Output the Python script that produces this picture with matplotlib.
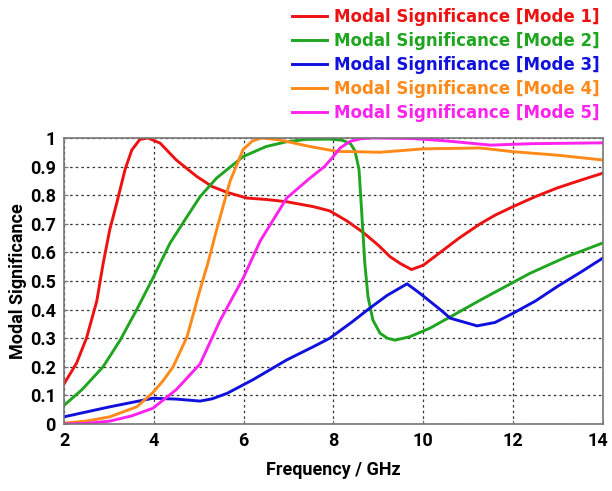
import matplotlib
matplotlib.use("Agg")
import matplotlib.pyplot as plt
from matplotlib.transforms import ScaledTranslation

# Mode 1 (red)
f1 = [2.0, 2.28, 2.5, 2.73, 2.87, 3.02, 3.17, 3.36, 3.51, 3.69, 3.87, 4.14, 4.5, 4.96, 5.3, 5.63, 6.07, 6.5, 6.96, 7.55, 7.92, 8.3, 8.66, 9.0, 9.26, 9.5, 9.74, 10.0, 10.38, 10.8, 11.27, 11.6, 12.0, 12.5, 12.98, 13.5, 14.0]
m1 = [0.14, 0.213, 0.30, 0.43, 0.56, 0.68, 0.77, 0.89, 0.958, 0.995, 1.0, 0.982, 0.923, 0.865, 0.83, 0.81, 0.79, 0.785, 0.777, 0.76, 0.745, 0.71, 0.67, 0.625, 0.585, 0.56, 0.54, 0.555, 0.60, 0.65, 0.70, 0.73, 0.76, 0.795, 0.825, 0.852, 0.877]

# Mode 2 (green)
f2 = [2.0, 2.4, 2.87, 3.25, 3.62, 3.98, 4.36, 4.74, 5.03, 5.4, 5.99, 6.5, 6.96, 7.4, 7.92, 8.2, 8.38, 8.48, 8.57, 8.63, 8.7, 8.77, 8.88, 9.04, 9.2, 9.37, 9.7, 10.15, 10.7, 11.27, 12.38, 13.2, 14.0]
m2 = [0.065, 0.12, 0.2, 0.293, 0.40, 0.51, 0.632, 0.725, 0.795, 0.86, 0.935, 0.97, 0.987, 0.995, 0.996, 0.992, 0.98, 0.955, 0.89, 0.74, 0.56, 0.445, 0.363, 0.317, 0.30, 0.293, 0.305, 0.335, 0.383, 0.433, 0.527, 0.585, 0.633]

# Mode 3 (blue)
f3 = [2.0, 3.02, 3.98, 4.5, 5.03, 5.3, 5.63, 6.2, 6.96, 7.55, 7.92, 8.4, 8.81, 9.2, 9.64, 9.9, 10.38, 10.6, 11.2, 11.6, 12.0, 12.5, 12.98, 13.5, 14.0]
m3 = [0.025, 0.06, 0.09, 0.087, 0.08, 0.088, 0.107, 0.154, 0.224, 0.27, 0.30, 0.355, 0.405, 0.45, 0.49, 0.46, 0.40, 0.37, 0.343, 0.355, 0.387, 0.43, 0.48, 0.53, 0.58]

# Mode 4 (orange)
f4 = [2.0, 2.5, 3.02, 3.62, 3.98, 4.2, 4.43, 4.74, 5.03, 5.2, 5.4, 5.7, 5.99, 6.2, 6.4, 6.81, 7.48, 8.08, 8.5, 9.04, 10.0, 11.27, 12.0, 12.98, 14.0]
m4 = [0.003, 0.01, 0.025, 0.06, 0.11, 0.15, 0.20, 0.305, 0.47, 0.56, 0.68, 0.85, 0.96, 0.99, 1.0, 0.993, 0.97, 0.953, 0.952, 0.95, 0.962, 0.965, 0.952, 0.94, 0.923]

# Mode 5 (magenta)
f5 = [2.0, 2.5, 3.02, 3.5, 3.98, 4.5, 5.03, 5.47, 5.99, 6.37, 6.96, 7.48, 7.8, 7.97, 8.15, 8.37, 8.6, 8.88, 9.77, 10.5, 11.5, 12.4, 14.0]
m5 = [0.0, 0.002, 0.01, 0.028, 0.055, 0.12, 0.21, 0.36, 0.51, 0.64, 0.79, 0.86, 0.9, 0.93, 0.965, 0.988, 0.997, 1.0, 0.998, 0.99, 0.975, 0.98, 0.983]

labels = ["Modal Significance [Mode 1]", "Modal Significance [Mode 2]",
          "Modal Significance [Mode 3]", "Modal Significance [Mode 4]",
          "Modal Significance [Mode 5]"]
colors = ["#ee1111", "#1fa51f", "#1111dd", "#ff8a1a", "#ff22ee"]

xticks = [2, 4, 6, 8, 10, 12, 14]
yticks = [0, 0.1, 0.2, 0.3, 0.4, 0.5, 0.6, 0.7, 0.8, 0.9, 1]
yticklabels = ["0", "0.1", "0.2", "0.3", "0.4", "0.5", "0.6", "0.7", "0.8", "0.9", "1"]

tickfont = {"family": ["Roboto", "DejaVu Sans"], "weight": "bold", "size": 13}

fig = plt.figure(figsize=(6.12, 4.91), dpi=100)
ax = fig.add_axes([0.1046, 0.1365, 0.8804, 0.5825])

series = [(f1, m1), (f2, m2), (f3, m3), (f4, m4), (f5, m5)]
lines = []
for (f, m), c, lab in zip(series, colors, labels):
    ln, = ax.plot(f, m, color=c, lw=2.1, label=lab, solid_joinstyle="round")
    lines.append(ln)

ax.set_xlim(2, 14)
ax.set_ylim(0, 1)
ax.set_xticks(xticks)
ax.set_xticklabels([str(t) for t in xticks], fontdict=tickfont)
ax.set_yticks(yticks)
ax.set_yticklabels(yticklabels, fontdict=tickfont)
ax.grid(True, color="#333333", linestyle=(0, (2, 2.5)), linewidth=0.9)
ax.tick_params(direction="in", length=3, color="#777777", pad=6)
for s in ax.spines.values():
    s.set_color("#777777")
    s.set_linewidth(1.2)

# keep the last x tick label inside the figure, as in the reference
last = ax.get_xticklabels()[-1]
last.set_transform(last.get_transform() + ScaledTranslation(-5 / 100, 0, fig.dpi_scale_trans))

ax.set_xlabel("Frequency / GHz", fontdict={"family": ["Roboto", "DejaVu Sans"], "weight": "bold", "size": 13}, labelpad=8)
ax.set_ylabel("Modal Significance", fontdict={"family": ["Roboto", "DejaVu Sans"], "weight": "bold", "size": 13}, labelpad=2)

leg = fig.legend(handles=lines, loc="upper right", bbox_to_anchor=(600 / 612, 1 - 8 / 491),
                 frameon=False, prop={"weight": "bold", "size": 12},
                 labelcolor="linecolor", handlelength=2.1, handletextpad=0.45,
                 labelspacing=0.36, borderaxespad=0, borderpad=0)

fig.savefig("out.png", dpi=100)
